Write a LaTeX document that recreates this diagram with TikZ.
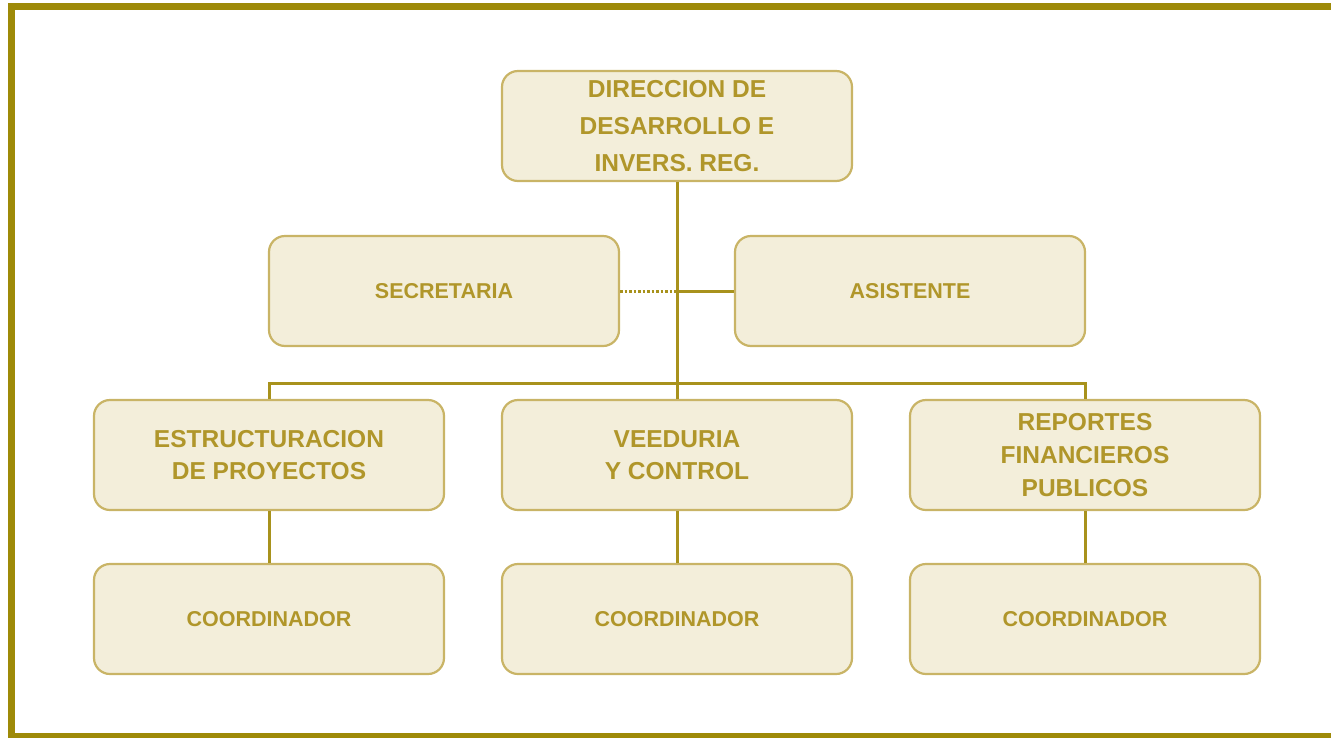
\documentclass[tikz,border=0pt]{standalone}
\usepackage{fontspec}
\setmainfont{Liberation Sans}
\definecolor{framec}{HTML}{9E8A08}
\definecolor{linec}{HTML}{A8921C}
\definecolor{boxline}{HTML}{C9B466}
\definecolor{boxfill}{HTML}{F3EEDA}
\definecolor{textc}{HTML}{B0962A}
\begin{document}
\begin{tikzpicture}[x=1pt,y=-1pt,
  orgbox/.style={draw=boxline, line width=2.2pt, fill=boxfill, rounded corners=16pt,
    minimum width=350pt, minimum height=110pt, align=center, text=textc,
    font=\bfseries\fontsize{24.5}{32}\selectfont, inner sep=2pt},
  smallbox/.style={orgbox, font=\bfseries\fontsize{21.5}{26}\selectfont},
  conn/.style={draw=linec, line width=3pt},
  dotconn/.style={draw=linec, line width=3pt, dash pattern=on 2.5pt off 2pt}]
\useasboundingbox (0,0) rectangle (1331,737);
\clip (0,0) rectangle (1331,737);
\draw[framec, line width=7pt] (11,6.5) rectangle (1345,736);
\node[orgbox, font=\bfseries\fontsize{24.5}{37}\selectfont] (dir) at (677,126) {DIRECCION DE\\DESARROLLO E\\INVERS. REG.};
\node[smallbox] (sec) at (444,291) {SECRETARIA};
\node[smallbox] (asi) at (910,291) {ASISTENTE};
\node[orgbox] (est) at (269,455) {ESTRUCTURACION\\DE PROYECTOS};
\node[orgbox] (vee) at (677,455) {VEEDURIA\\Y CONTROL};
\node[orgbox, font=\bfseries\fontsize{24.5}{33}\selectfont] (rep) at (1085,455) {REPORTES\\FINANCIEROS\\PUBLICOS};
\node[smallbox] (c1) at (269,619) {COORDINADOR};
\node[smallbox] (c2) at (677,619) {COORDINADOR};
\node[smallbox] (c3) at (1085,619) {COORDINADOR};
\coordinate (bus) at (677,383);
\coordinate (mid) at (677,291);
\draw[conn] (dir.south) -- (bus);
\draw[conn] (mid) -- (asi.west);
\draw[dotconn] (sec.east) -- (mid);
\draw[conn] (est.north) |- (bus) -| (rep.north);
\draw[conn] (bus) -- (vee.north);
\draw[conn] (est.south) -- (c1.north);
\draw[conn] (vee.south) -- (c2.north);
\draw[conn] (rep.south) -- (c3.north);
\end{tikzpicture}
\end{document}
